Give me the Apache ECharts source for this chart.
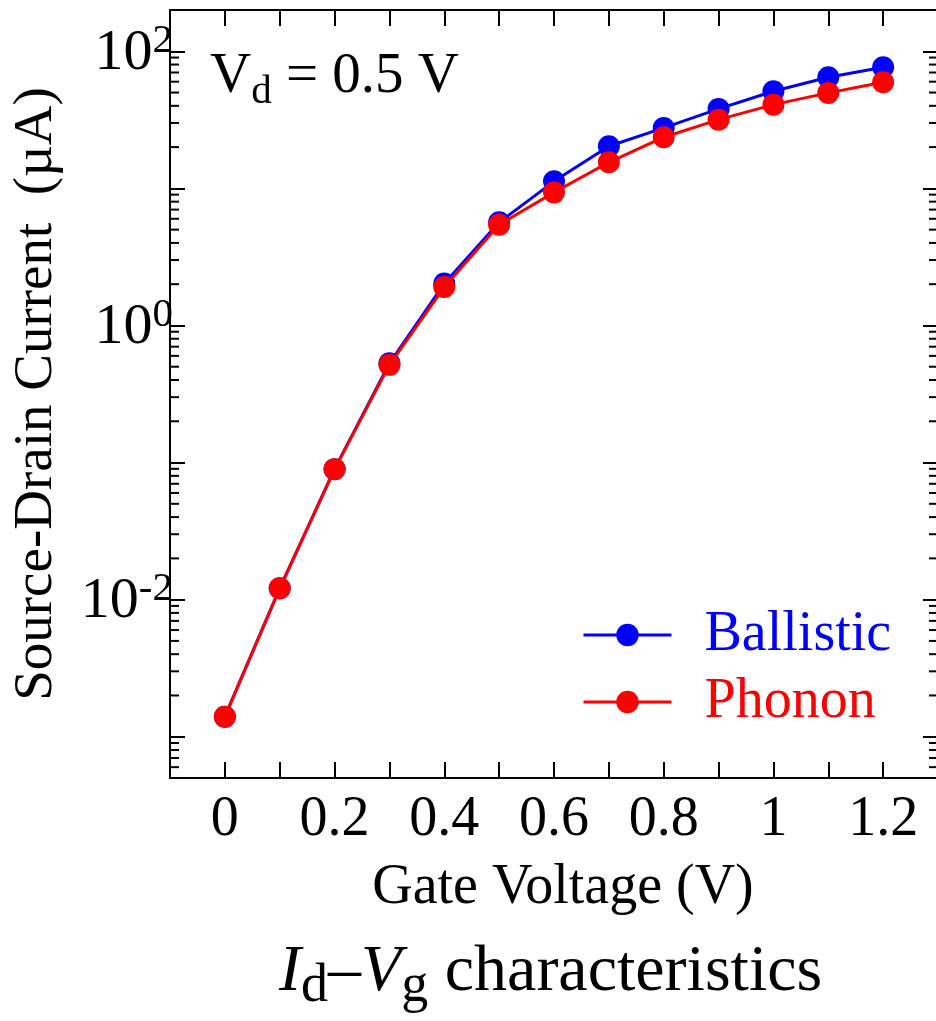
<!DOCTYPE html>
<html>
<head>
<meta charset="utf-8">
<script src="https://cdn.jsdelivr.net/npm/echarts@6/dist/echarts.min.js"></script>
<style>
html,body{margin:0;padding:0;background:#fff;}
#chart{width:936px;height:1021px;}
</style>
</head>
<body>
<div id="chart"></div>
<script>
// ---- data ----
const gateVoltage = [0, 0.1, 0.2, 0.3, 0.4, 0.5, 0.6, 0.7, 0.8, 0.9, 1.0, 1.1, 1.2];
const ballistic   = [0.0014, 0.0121, 0.0895, 0.53, 2.02, 5.65, 11.25, 20.3, 27.6, 38.0, 51.1, 64.6, 76.4];
const phonon      = [0.0014, 0.0121, 0.0895, 0.516, 1.905, 5.43, 9.35, 15.5, 23.6, 31.7, 40.8, 49.7, 59.4];
const seriesNames = ['Ballistic', 'Phonon'];
const xLabelTicks = [0, 0.2, 0.4, 0.6, 0.8, 1, 1.2];
const yLabelExponents = [-2, 0, 2];
const minorMultipliers = [2, 3, 4, 5, 6, 7, 8, 9];
const minorDecades = [-4, -3, -2, -1, 0, 1, 2];
const xMin = -0.1, xMax = 1.3, yMin = 5e-4, yMax = 200;

const FONT = 'Liberation Serif';

const minorVals = [];
minorDecades.forEach(k => minorMultipliers.forEach(m => {
  const v = m * Math.pow(10, k);
  if (v > yMin && v < yMax) minorVals.push(v);
}));

const chart = echarts.init(document.getElementById('chart'), null, {renderer: 'canvas'});

const axisLineStyle = {color: '#000', width: 2};

const option = {
  animation: false,
  backgroundColor: '#fff',
  textStyle: {fontFamily: FONT, fontWeight: 'normal'},
  grid: {left: 170, top: 10, right: -2, bottom: 243, containLabel: false, outerBoundsMode: 'none'},
  title: {
    text: '{i|I}{s|d}{n|\u2013}{i|V}{s|g}{n| characteristics}',
    left: 279, top: 940, padding: 0,
    textStyle: {
      fontWeight: 'normal',
      rich: {
        i: {fontFamily: FONT, fontStyle: 'italic', fontWeight: 'normal', fontSize: 66, color: '#000', lineHeight: 74, verticalAlign: 'top'},
        n: {fontFamily: FONT, fontWeight: 'normal', fontSize: 66, color: '#000', lineHeight: 74, verticalAlign: 'top'},
        s: {fontFamily: FONT, fontWeight: 'normal', fontSize: 54, color: '#000', lineHeight: 74, verticalAlign: 'bottom'}
      }
    }
  },
  legend: {
    data: [
      {name: 'Ballistic', textStyle: {color: '#0000ff'}},
      {name: 'Phonon', textStyle: {color: '#ff0000'}}
    ],
    orient: 'vertical', left: 582, top: 605, padding: 0,
    itemWidth: 88, itemHeight: 28, itemGap: 7,
    lineStyle: {width: 3},
    selectedMode: false,
    textStyle: {fontFamily: FONT, fontSize: 56, lineHeight: 60, padding: [0, 0, 0, 28]}
  },
  graphic: [{
    type: 'text', left: 210, top: 49,
    style: {
      text: '{v|V}{d|d}{v| = 0.5 V}',
      rich: {
        v: {fontFamily: FONT, fontSize: 57, fill: '#000', lineHeight: 64, verticalAlign: 'top'},
        d: {fontFamily: FONT, fontSize: 41, fill: '#000', lineHeight: 64, verticalAlign: 'bottom'}
      }
    }
  }],
  xAxis: [{
    type: 'value', min: xMin, max: xMax, interval: 0.1,
    position: 'bottom',
    name: 'Gate Voltage (V)', nameLocation: 'middle', nameGap: 82,
    nameTextStyle: {fontFamily: FONT, fontSize: 56, color: '#000', padding: [0, 0, 0, 18]},
    axisLine: {show: true, onZero: false, lineStyle: axisLineStyle},
    axisTick: {show: true, inside: true, length: 16, lineStyle: {color: '#000', width: 2}},
    splitLine: {show: false},
    axisLabel: {
      show: true, margin: 14, color: '#000', fontFamily: FONT, fontSize: 56,
      showMinLabel: false, showMaxLabel: false,
      formatter: v => {
        const hit = xLabelTicks.find(t => Math.abs(t - v) < 1e-6);
        return hit === undefined ? '' : String(hit);
      }
    }
  }, {
    type: 'value', min: xMin, max: xMax, interval: 0.1,
    position: 'top',
    axisLine: {show: true, onZero: false, lineStyle: axisLineStyle},
    axisTick: {show: true, inside: true, length: 16, lineStyle: {color: '#000', width: 2}},
    splitLine: {show: false},
    axisLabel: {show: false}
  }],
  yAxis: [{
    type: 'log', logBase: 10, min: yMin, max: yMax,
    position: 'left',
    name: 'Source-Drain Current  (\u00b5A)', nameLocation: 'middle', nameGap: 106,
    nameTextStyle: {fontFamily: FONT, fontSize: 55, color: '#000'},
    axisLine: {show: true, onZero: false, lineStyle: axisLineStyle},
    axisTick: {show: true, inside: true, length: 15, lineStyle: {color: '#000', width: 2}},
    splitLine: {show: false},
    axisLabel: {
      show: true, margin: -3,
      formatter: v => {
        const lg = Math.log10(v);
        const e = Math.round(lg);
        if (Math.abs(lg - e) > 1e-6 || !yLabelExponents.includes(e)) return '';
        return '{b|10}{s|' + e + '}';
      },
      rich: {
        b: {fontFamily: FONT, fontSize: 58, color: '#000', lineHeight: 62, verticalAlign: 'bottom'},
        s: {fontFamily: FONT, fontSize: 41, color: '#000', lineHeight: 42, verticalAlign: 'top'}
      }
    }
  }, {
    type: 'log', logBase: 10, min: yMin, max: yMax,
    position: 'right',
    axisLine: {show: true, onZero: false, lineStyle: axisLineStyle},
    axisTick: {show: true, inside: true, length: 15, lineStyle: {color: '#000', width: 2}},
    splitLine: {show: false},
    axisLabel: {show: false}
  }],
  series: [
    {
      type: 'custom', coordinateSystem: 'cartesian2d', xAxisIndex: 0, yAxisIndex: 0,
      silent: true, clip: false, z: 1,
      data: minorVals.map(v => [xMin, v]),
      renderItem: (params, api) => {
        const v = api.value(1);
        const pl = api.coord([xMin, v]);
        const pr = api.coord([xMax, v]);
        return {
          type: 'group',
          children: [
            {type: 'line', shape: {x1: pl[0], y1: pl[1], x2: pl[0] + 9, y2: pl[1]}, style: {stroke: '#000', lineWidth: 2}},
            {type: 'line', shape: {x1: pr[0] - 9, y1: pr[1], x2: pr[0], y2: pr[1]}, style: {stroke: '#000', lineWidth: 2}}
          ]
        };
      }
    },
    {
      name: seriesNames[0], type: 'line', xAxisIndex: 0, yAxisIndex: 0,
      data: gateVoltage.map((x, i) => [x, ballistic[i]]),
      symbol: 'circle', symbolSize: 22, showSymbol: true,
      lineStyle: {color: '#0000ff', width: 3},
      itemStyle: {color: '#0000ff'},
      z: 3
    },
    {
      name: seriesNames[1], type: 'line', xAxisIndex: 0, yAxisIndex: 0,
      data: gateVoltage.map((x, i) => [x, phonon[i]]),
      symbol: 'circle', symbolSize: 22, showSymbol: true,
      lineStyle: {color: '#ff0000', width: 3},
      itemStyle: {color: '#ff0000'},
      z: 4
    }
  ]
};
chart.setOption(option);
</script>
</body>
</html>
